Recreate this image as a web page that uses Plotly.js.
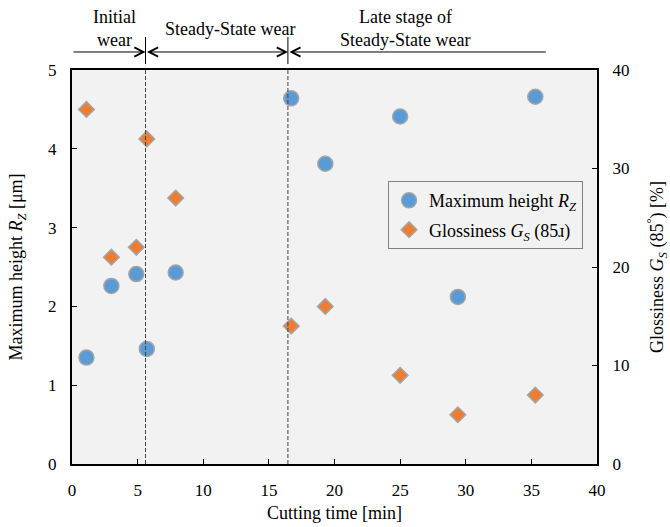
<!DOCTYPE html>
<html>
<head>
<meta charset="utf-8">
<script src="https://cdn.plot.ly/plotly-3.0.1.min.js"></script>
<style>html,body{margin:0;padding:0;background:#fff;}#chart{width:670px;height:527px;}</style>
</head>
<body>
<div id="chart"></div>
<script>
const cuttingTime = [1.1, 3.0, 4.9, 5.7, 7.9, 16.7, 19.3, 25.0, 29.4, 35.3];
const maxHeightRz = [1.35, 2.26, 2.41, 1.46, 2.43, 4.64, 3.81, 4.41, 2.12, 4.66];
const glossinessGs = [36, 21, 22, 33, 27, 14, 16, 9, 5, 7];
const stageBoundaries = [5.6, 16.45];
const stageLineEnd = 36.1;
const stageLabels = [
  {text: 'Initial', x: 3.2, y: 1.1345},
  {text: 'wear', x: 3.2, y: 1.076},
  {text: 'Steady-State wear', x: 12.0, y: 1.105},
  {text: 'Late stage of', x: 25.4, y: 1.1345},
  {text: 'Steady-State wear', x: 25.4, y: 1.076}
];
const xTicks = [0, 5, 10, 15, 20, 25, 30, 35, 40];

const FONT = 'Liberation Serif';

const traces = [
  {
    x: cuttingTime, y: maxHeightRz, type: 'scatter', mode: 'markers',
    name: 'Maximum height <i>R</i><sub><i>Z</i></sub>',
    legendgroup: 'a',
    marker: {symbol: 'circle', size: 15, color: '#5b9bd5', line: {color: '#a5a5a5', width: 1.5}},
    yaxis: 'y'
  },
  {
    x: cuttingTime, y: glossinessGs, type: 'scatter', mode: 'markers',
    name: 'Glossiness <i>G</i><sub><i>S</i></sub> (85ɹ)',
    legendgroup: 'b',
    marker: {symbol: 'diamond', size: 12, color: '#ed7d31', line: {color: '#a5a5a5', width: 1.5}},
    yaxis: 'y2'
  }
];

const shapes = [];
const annotations = [];
stageBoundaries.forEach(b => {
  shapes.push({type: 'line', xref: 'x', yref: 'paper', x0: b, x1: b, y0: 0, y1: 1,
    line: {color: '#404040', width: 1, dash: '4px,2px'}});
  shapes.push({type: 'line', xref: 'x', yref: 'paper', x0: b, x1: b, y0: 1.015, y1: 1.0838,
    line: {color: '#000', width: 1}});
});
const segs = [[0, stageBoundaries[0], 'end'], [stageBoundaries[0], stageBoundaries[1], 'end+start'], [stageBoundaries[1], stageLineEnd, 'start']];
segs.forEach(s => {
  annotations.push({
    x: s[1], y: 1.0457, xref: 'x', yref: 'paper',
    ax: s[0], ay: 1.0457, axref: 'x', ayref: 'paper',
    showarrow: true, arrowside: s[2], arrowhead: 5, startarrowhead: 5,
    arrowsize: 1.8, startarrowsize: 1.8, arrowwidth: 1, arrowcolor: '#000',
    standoff: 0, startstandoff: 0, text: ''
  });
});
stageLabels.forEach(l => {
  annotations.push({x: l.x, y: l.y, xref: 'x', yref: 'paper', text: l.text, showarrow: false,
    xanchor: 'center', yanchor: 'middle', font: {family: FONT, size: 18, color: '#000'}});
});

const layout = {
  width: 670, height: 527,
  margin: {l: 72, r: 73, t: 70, b: 63},
  paper_bgcolor: '#ffffff',
  plot_bgcolor: '#f2f2f2',
  font: {family: FONT, size: 17, color: '#000'},
  showlegend: true,
  legend: {
    x: 0.602, y: 0.718, xanchor: 'left', yanchor: 'top',
    bgcolor: '#f2f2f2', bordercolor: '#808080', borderwidth: 1,
    font: {family: FONT, size: 18, color: '#000'},
    traceorder: 'grouped', tracegroupgap: 3
  },
  xaxis: {
    range: [0, 40], tickvals: xTicks, ticks: 'inside', ticklen: 5, tickcolor: '#000',
    showline: true, linecolor: '#000', linewidth: 2, mirror: true, showgrid: false, zeroline: false,
    ticklabelstandoff: 10, tickfont: {family: FONT, size: 17},
    title: {text: 'Cutting time [min]', font: {family: FONT, size: 18}, standoff: 7}
  },
  yaxis: {
    range: [0, 5], dtick: 1, ticks: 'inside', ticklen: 5, tickcolor: '#000',
    showline: true, linecolor: '#000', linewidth: 2, showgrid: false, zeroline: false,
    ticklabelstandoff: 10, tickfont: {family: FONT, size: 17},
    title: {text: 'Maximum height <i>R</i><sub><i>Z</i></sub> [μm]', font: {family: FONT, size: 18}, standoff: 21}
  },
  yaxis2: {
    range: [0, 40], dtick: 10, overlaying: 'y', side: 'right', ticks: 'inside', ticklen: 5, tickcolor: '#000',
    showline: true, linecolor: '#000', linewidth: 2, showgrid: false, zeroline: false,
    ticklabelstandoff: 10, tickfont: {family: FONT, size: 17},
    title: {text: 'Glossiness <i>G</i><sub><i>S</i></sub> (85<sup>°</sup>) [%]', font: {family: FONT, size: 18}, standoff: 22}
  },
  shapes: shapes,
  annotations: annotations
};

Plotly.newPlot('chart', traces, layout, {displayModeBar: false, staticPlot: true});
</script>
</body>
</html>
